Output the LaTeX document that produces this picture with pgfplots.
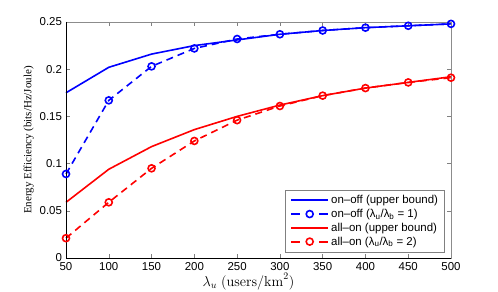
\documentclass[border=0pt]{standalone}
\usepackage[no-math]{fontspec}
\setmainfont{Liberation Sans}
\newfontfamily\seriffont{Liberation Serif}
\usepackage{pgfplots}
\pgfplotsset{compat=1.18}
\begin{document}
\begin{tikzpicture}
\begin{axis}[
  width=385bp, height=236bp, scale only axis,
  xmin=50, xmax=500, ymin=0, ymax=0.25,
  xtick={50,100,...,500},
  ytick={0,0.05,0.1,0.15,0.2,0.25},
  yticklabels={0,0.05,0.1,0.15,0.2,0.25},
  xticklabels={50,100,150,200,250,300,350,400,450,500},
  tick align=inside,
  major tick length=4bp,
  tick style={gray, line width=0.5bp},
  axis line style={gray!90, line width=0.6bp},
  ticklabel style={font=\fontsize{11.5}{13}\selectfont},
  xticklabel style={yshift=-0.5bp},
  yticklabel style={xshift=-0.5bp},
  /pgf/number format/assume math mode=true,
  xlabel={\fontsize{14.5}{16}\selectfont $\lambda_u\ (\mathrm{users/km}^2)$},
  ylabel={\seriffont\fontsize{11}{12}\selectfont Energy Efficiency (bits/Hz/Joule)},
  xlabel style={yshift=3.5bp, xshift=-10bp},
  ylabel style={yshift=-1bp},
  legend style={at={(rel axis cs:0.984,0.025)}, anchor=south east,
    draw=gray, line width=0.6bp, font=\fontsize{11.5}{13}\selectfont,
    row sep=0bp, inner xsep=4.5bp, inner ysep=3.3bp},
  legend cell align=left,
  legend image code/.code={
    \draw[#1, mark=none, line width=2.1bp] (0bp,0bp) -- (37bp,0bp);
    \draw[#1, solid] plot coordinates {(18.5bp,0bp)};
  },
  every axis plot/.append style={line width=1.6bp},
  clip=false,
]
\addplot[blue, solid, line width=1.6bp] coordinates {
(50,0.175) (100,0.202) (150,0.216) (200,0.225) (250,0.231) (300,0.237) (350,0.241) (400,0.244) (450,0.246) (500,0.248)};
\addlegendentry{on--off (upper bound)}
\addplot[blue, line width=1.6bp, dash pattern=on 7bp off 5bp, mark=o, mark size=3.5bp, mark options={solid},
  legend image post style={dash pattern=on 9bp off 19bp}] coordinates {
(50,0.089) (100,0.167) (150,0.203) (200,0.222) (250,0.232) (300,0.237) (350,0.241) (400,0.244) (450,0.246) (500,0.248)};
\addlegendentry{on--off (λ\textsubscript{u}/λ\textsubscript{b} = 1)}
\addplot[red, solid, line width=1.6bp] coordinates {
(50,0.059) (100,0.094) (150,0.118) (200,0.136) (250,0.150) (300,0.162) (350,0.172) (400,0.180) (450,0.186) (500,0.192)};
\addlegendentry{all--on (upper bound)}
\addplot[red, line width=1.6bp, dash pattern=on 7bp off 5bp, mark=o, mark size=3.5bp, mark options={solid},
  legend image post style={dash pattern=on 9bp off 19bp}] coordinates {
(50,0.021) (100,0.059) (150,0.095) (200,0.124) (250,0.146) (300,0.161) (350,0.172) (400,0.180) (450,0.186) (500,0.191)};
\addlegendentry{all--on (λ\textsubscript{u}/λ\textsubscript{b} = 2)}
\draw[black, line width=0.7bp] (rel axis cs:0,1) -- (rel axis cs:0,0) -- (rel axis cs:1,0);
\coordinate (sw) at (rel axis cs:0,0);
\coordinate (ne) at (rel axis cs:1,1);
\end{axis}
\pgfresetboundingbox
\useasboundingbox ([shift={(-66bp,-33bp)}]sw) rectangle ([shift={(47bp,22bp)}]ne);
\end{tikzpicture}
\end{document}
